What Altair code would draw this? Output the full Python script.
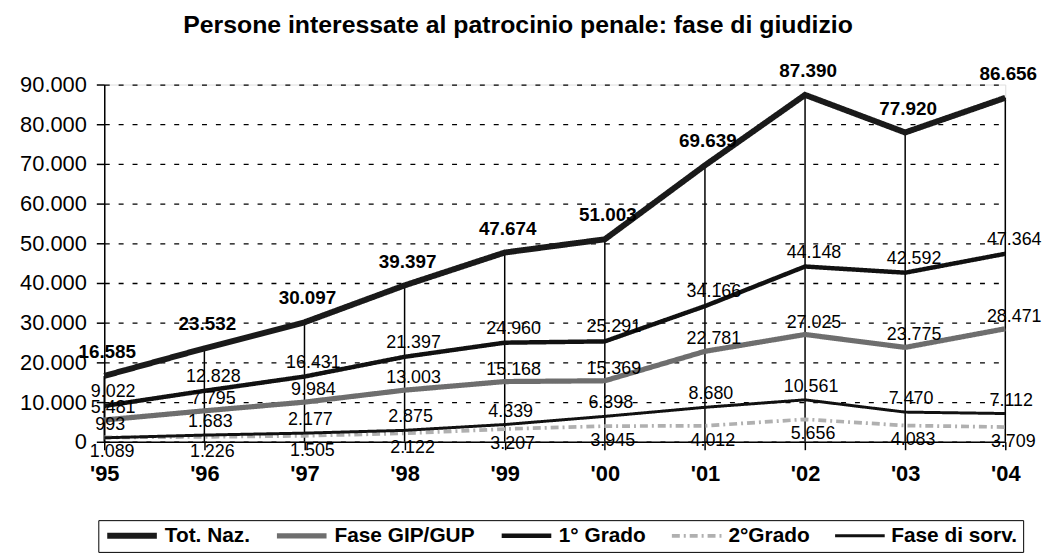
import altair as alt
import pandas as pd

years = ["'95", "'96", "'97", "'98", "'99", "'00", "'01", "'02", "'03", "'04"]
tot_naz = [16585, 23532, 30097, 39397, 47674, 51003, 69639, 87390, 77920, 86656]
fase_gip = [5481, 7795, 9984, 13003, 15168, 15369, 22781, 27025, 23775, 28471]
primo_grado = [9022, 12828, 16431, 21397, 24960, 25291, 34166, 44148, 42592, 47364]
secondo_grado = [1089, 1226, 1505, 2122, 3207, 3945, 4012, 5656, 4083, 3709]
fase_sorv = [993, 1683, 2177, 2875, 4339, 6398, 8680, 10561, 7470, 7112]
series_names = ["Tot. Naz.", "Fase GIP/GUP", "1° Grado", "2°Grado", "Fase di sorv."]
y_ticks = [0, 10000, 20000, 30000, 40000, 50000, 60000, 70000, 80000, 90000]

FONT = "Liberation Sans"

rows = []
for name, vals in zip(series_names, [tot_naz, fase_gip, primo_grado, secondo_grado, fase_sorv]):
    for y, v in zip(years, vals):
        rows.append({"year": y, "series": name, "value": v})
df = pd.DataFrame(rows)

x_enc = alt.X("year:O", sort=years, scale=alt.Scale(type="point", padding=0),
              axis=alt.Axis(title=None, labelAngle=0, labelFont=FONT, labelFontSize=22,
                            labelFontWeight="bold", labelColor="black", labelPadding=14,
                            tickSize=8, tickColor="black", tickWidth=1.5,
                            domainColor="black", domainWidth=1.5, grid=False))
y_enc = alt.Y("value:Q", scale=alt.Scale(domain=[0, 90000], nice=False),
              axis=alt.Axis(title=None, values=y_ticks, labelFont=FONT, labelFontSize=22,
                            labelColor="black", labelPadding=10,
                            labelExpr="replace(format(datum.value, ','), ',', '.')",
                            tickSize=8, tickColor="black", tickWidth=1.5,
                            domainColor="black", domainWidth=1.5,
                            grid=True, gridColor="black", gridDash=[5, 9], gridWidth=1.3))

base = alt.Chart(df).transform_calculate(
    label="replace(format(datum.value, ','), ',', '.')"
)

leg = alt.Legend(title=None, orient="none", legendX=-6, legendY=439, direction="horizontal",
                 symbolType="stroke", symbolSize=2500, clipHeight=19, labelFont=FONT,
                 labelFontSize=21, labelFontWeight="bold", labelColor="black", labelOffset=5,
                 columnPadding=24, padding=6, strokeColor="black")

drops = base.transform_filter(alt.datum.series == "Tot. Naz.").mark_rule(
    color="black", strokeWidth=1.5
).encode(x=x_enc, y=y_enc, y2=alt.datum(0))

lines = base.mark_line().encode(
    x=x_enc, y=y_enc,
    color=alt.Color("series:N", scale=alt.Scale(domain=series_names,
                    range=["#1a1a1a", "#6e6e6e", "#111111", "#b0b0b0", "#111111"]), legend=leg),
    strokeWidth=alt.StrokeWidth("series:N", scale=alt.Scale(domain=series_names,
                    range=[6, 3, 1.5, 1.2, 1.5]), legend=leg),
    strokeDash=alt.StrokeDash("series:N", scale=alt.Scale(domain=series_names,
                    range=[[1, 0], [1, 0], [1, 0], [8, 4, 2, 4], [1, 0]]), legend=leg),
    order=alt.Order("series:N"),
)

def labels(name, dx, dy, size, weight):
    return base.transform_filter(alt.datum.series == name).mark_text(
        dx=dx, dy=dy, fontSize=size, fontWeight=weight, font=FONT, color="black",
        align="center", baseline="middle"
    ).encode(x=x_enc, y=y_enc, text="label:N")

chart = alt.layer(
    drops,
    lines,
    labels("Tot. Naz.", 3, -24, 19, "bold"),
    labels("1° Grado", 9, -14, 18, "normal"),
    labels("Fase GIP/GUP", 9, -12, 18, "normal"),
    labels("Fase di sorv.", 6, -13, 18, "normal"),
    labels("2°Grado", 8, 15, 18, "normal"),
).properties(
    width=908, height=360,
    autosize=alt.AutoSizeParams(type="none"),
    padding={"left": 97, "top": 75, "right": 37, "bottom": 112},
    title=alt.TitleParams("Persone interessate al patrocinio penale: fase di giudizio",
                          font=FONT, fontSize=25, fontWeight="bold", color="black",
                          anchor="middle", frame="group", dx=-37, offset=24),
).configure_view(stroke=None).configure(background="white")

chart.save("out.html", embed_options={"renderer": "svg", "actions": False})
